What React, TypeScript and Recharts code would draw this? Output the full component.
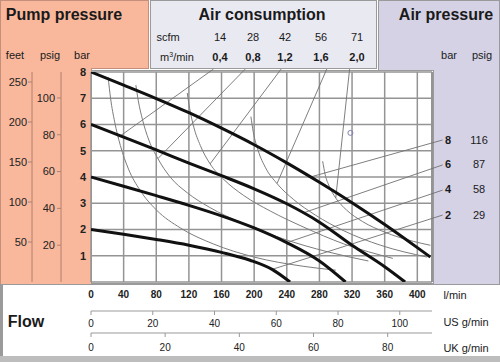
import React from 'react';
import {
  ComposedChart,
  Line,
  XAxis,
  YAxis,
  CartesianGrid,
  ReferenceLine,
  ReferenceDot,
} from 'recharts';

// axis ticks
const flowTicks = [0, 40, 80, 120, 160, 200, 240, 280, 320, 360, 400];
const usGpmTicks = [0, 20, 40, 60, 80, 100];
const ukGpmTicks = [0, 20, 40, 60, 80];
const barTicks = [0, 1, 2, 3, 4, 5, 6, 7, 8];
const psigTicks = [20, 40, 60, 80, 100];
const feetTicks = [50, 100, 150, 200, 250];

// header labels
const scfmLabels = ['14', '28', '42', '56', '71'];
const m3Labels = ['0,4', '0,8', '1,2', '1,6', '2,0'];
const rightBarLabels = ['8', '6', '4', '2'];
const rightPsigLabels = ['116', '87', '58', '29'];

// air pressure curves (l/min, bar)
const bar8 = [
  { x: 0, y: 8 }, { x: 40, y: 7.5 }, { x: 80, y: 6.99 }, { x: 120, y: 6.45 },
  { x: 160, y: 5.86 }, { x: 200, y: 5.23 }, { x: 240, y: 4.54 }, { x: 280, y: 3.8 },
  { x: 320, y: 3.02 }, { x: 360, y: 2.19 }, { x: 400, y: 1.31 }, { x: 416, y: 0.95 },
];
const bar6 = [
  { x: 0, y: 6 }, { x: 40, y: 5.52 }, { x: 80, y: 5.03 }, { x: 120, y: 4.53 },
  { x: 160, y: 4.05 }, { x: 200, y: 3.55 }, { x: 240, y: 2.98 }, { x: 280, y: 2.28 },
  { x: 320, y: 1.4 }, { x: 360, y: 0.58 }, { x: 385, y: 0 },
];
const bar4 = [
  { x: 0, y: 4 }, { x: 40, y: 3.65 }, { x: 80, y: 3.29 }, { x: 120, y: 2.92 },
  { x: 160, y: 2.52 }, { x: 200, y: 2.06 }, { x: 240, y: 1.5 }, { x: 280, y: 0.8 },
  { x: 312, y: 0 },
];
const bar2 = [
  { x: 0, y: 2 }, { x: 40, y: 1.82 }, { x: 80, y: 1.62 }, { x: 120, y: 1.4 },
  { x: 160, y: 1.13 }, { x: 195, y: 0.83 }, { x: 222, y: 0.48 }, { x: 244, y: 0 },
];
const pressureCurves = [bar8, bar6, bar4, bar2];

// air consumption curves
const air04 = [
  { x: 21, y: 7.8 }, { x: 24, y: 7.0 }, { x: 29, y: 6.1 }, { x: 36, y: 5.2 },
  { x: 46, y: 4.3 }, { x: 60, y: 3.5 }, { x: 80, y: 2.75 }, { x: 110, y: 2.05 },
  { x: 150, y: 1.45 }, { x: 200, y: 0.95 }, { x: 260, y: 0.6 }, { x: 300, y: 0.45 },
];
const air08 = [
  { x: 55, y: 7.5 }, { x: 58, y: 6.9 }, { x: 63, y: 6.2 }, { x: 71, y: 5.4 },
  { x: 82, y: 4.7 }, { x: 97, y: 4.0 }, { x: 118, y: 3.4 }, { x: 145, y: 2.85 },
  { x: 185, y: 2.25 }, { x: 235, y: 1.65 }, { x: 290, y: 1.15 }, { x: 340, y: 0.8 },
];
const air12 = [
  { x: 118, y: 7.2 }, { x: 121, y: 6.6 }, { x: 126, y: 5.9 }, { x: 134, y: 5.2 },
  { x: 146, y: 4.5 }, { x: 163, y: 3.9 }, { x: 187, y: 3.3 }, { x: 220, y: 2.7 },
  { x: 260, y: 2.1 }, { x: 310, y: 1.45 }, { x: 370, y: 0.9 },
];
const air16 = [
  { x: 196, y: 6.3 }, { x: 199, y: 5.7 }, { x: 205, y: 5.0 }, { x: 214, y: 4.35 },
  { x: 228, y: 3.75 }, { x: 248, y: 3.15 }, { x: 275, y: 2.55 }, { x: 310, y: 1.95 },
  { x: 355, y: 1.4 }, { x: 412, y: 0.95 },
];
const air20 = [
  { x: 284, y: 4.6 }, { x: 287, y: 4.1 }, { x: 292, y: 3.65 }, { x: 300, y: 3.2 },
  { x: 313, y: 2.75 }, { x: 333, y: 2.3 }, { x: 360, y: 1.9 }, { x: 395, y: 1.55 },
  { x: 416, y: 1.4 },
];
const airCurves = [air04, air08, air12, air16, air20];

// leader lines from the labels to the curves
const airLeaders = [
  [{ x: 150, y: 8.11 }, { x: 33, y: 5.5 }],
  [{ x: 189, y: 8.11 }, { x: 82, y: 4.7 }],
  [{ x: 233, y: 8.11 }, { x: 146, y: 4.5 }],
  [{ x: 289, y: 8.11 }, { x: 228, y: 3.75 }],
  [{ x: 317, y: 8.11 }, { x: 300, y: 3.2 }],
];
const pressureLeaders = [
  [{ x: 431, y: 5.41 }, { x: 269, y: 4.0 }],
  [{ x: 431, y: 4.46 }, { x: 260, y: 2.63 }],
  [{ x: 431, y: 3.5 }, { x: 240, y: 1.5 }],
  [{ x: 431, y: 2.55 }, { x: 222, y: 0.48 }],
];
const strayDot = { x: 318, y: 5.68 };

// flow range spanned by the gallon scales (l/min)
const flowRange = [{ x: 0, y: 0 }, { x: 418, y: 0 }];

const FONT = '"Liberation Sans", Arial, sans-serif';
const SALMON = '#f9b89c';
const LAVENDER = '#d5d2e6';

const L_PER_US_GAL = 3.785;
const L_PER_UK_GAL = 4.546;

const Box = ({ style }: { style: React.CSSProperties }) => (
  <div style={{ position: 'absolute', boxSizing: 'border-box', ...style }} />
);

const T = ({
  x,
  y,
  children,
  size = 11,
  bold = false,
}: {
  x: number;
  y: number;
  children: React.ReactNode;
  size?: number;
  bold?: boolean;
}) => (
  <div
    style={{
      position: 'absolute',
      left: x,
      top: y,
      transform: 'translate(-50%, -50%)',
      fontSize: size,
      fontWeight: bold ? 'bold' : 'normal',
      fontFamily: FONT,
      color: '#1a1a1a',
      whiteSpace: 'nowrap',
      lineHeight: 1,
    }}
  >
    {children}
  </div>
);

const headerX = [220, 253, 285, 321, 357];
const rightY = [140, 164, 189, 215];

const tickFont = { fontSize: 10, fill: '#222', fontFamily: FONT };

const App = () => {
  return (
    <div style={{ position: 'absolute', left: 0, top: 0, width: 500, height: 362, background: '#fff' }}>
      {/* panels */}
      <Box style={{ left: 0, top: 0, width: 149, height: 69, background: SALMON, border: '1px solid #c4907c' }} />
      <Box style={{ left: 0, top: 68, width: 92, height: 216, background: SALMON, borderLeft: '1px solid #c4907c', borderRight: '1px solid #c4907c' }} />
      <Box style={{ left: 150, top: 0, width: 227, height: 69, background: '#e9e9f1', border: '1px solid #9a9a9a' }} />
      <Box style={{ left: 378, top: 0, width: 122, height: 285, background: LAVENDER, border: '1px solid #9a9a9a' }} />
      <Box style={{ left: 91, top: 70, width: 343, height: 214, background: '#fff', border: '1px solid #9a9a9a' }} />
      <Box style={{ left: 0, top: 284, width: 500, height: 72, background: '#fff', borderLeft: '3px solid #9a9a9a', borderTop: '1px solid #9a9a9a' }} />
      <Box style={{ left: 0, top: 356, width: 500, height: 6, background: '#bdbdbd' }} />

      <div style={{ position: 'absolute', left: 0, top: 0 }}>
        <ComposedChart width={500} height={362} margin={{ top: 72, right: 68, bottom: 5, left: 0 }}>
          <XAxis
            xAxisId="a_lmin"
            type="number"
            dataKey="x"
            domain={[0, 418]}
            allowDataOverflow
            ticks={flowTicks}
            interval={0}
            height={29}
            axisLine={false}
            tickLine={false}
            tickSize={0}
            tickMargin={9}
            tick={{ ...tickFont, fontWeight: 'bold' }}
          />
          <XAxis
            xAxisId="b_us"
            type="number"
            dataKey="x"
            domain={[0, 418]}
            allowDataOverflow
            ticks={usGpmTicks.map((g) => g * L_PER_US_GAL)}
            tickFormatter={(v: number) => String(Math.round(v / L_PER_US_GAL))}
            interval={0}
            height={22}
            stroke="#999"
            tickSize={4}
            tickMargin={5}
            tick={tickFont}
          />
          <XAxis
            xAxisId="c_uk"
            type="number"
            dataKey="x"
            domain={[0, 418]}
            allowDataOverflow
            ticks={ukGpmTicks.map((g) => g * L_PER_UK_GAL)}
            tickFormatter={(v: number) => String(Math.round(v / L_PER_UK_GAL))}
            interval={0}
            height={24}
            stroke="#999"
            tickSize={4}
            tickMargin={7}
            tick={tickFont}
          />
          <YAxis
            yAxisId="a_bar"
            type="number"
            domain={[0, 8]}
            allowDataOverflow
            ticks={barTicks}
            interval={0}
            width={30}
            axisLine={false}
            tickLine={false}
            tickSize={3}
            tickMargin={2}
            tickFormatter={(v: number) => (v === 0 ? '' : String(v))}
            tick={{ ...tickFont, fontSize: 11, fontWeight: 'bold' }}
          />
          <YAxis
            yAxisId="b_psig"
            type="number"
            domain={[0, 114.1]}
            allowDataOverflow
            ticks={psigTicks}
            interval={0}
            width={29}
            stroke="#b08070"
            tickSize={4}
            tickMargin={2}
            tick={{ ...tickFont, fontSize: 11 }}
          />
          <YAxis
            yAxisId="c_feet"
            type="number"
            domain={[0, 262.5]}
            allowDataOverflow
            ticks={feetTicks}
            interval={0}
            width={32}
            stroke="#b08070"
            tickSize={4}
            tickMargin={1}
            tick={{ ...tickFont, fontSize: 11 }}
          />
          <CartesianGrid xAxisId="a_lmin" yAxisId="a_bar" stroke="#949494" strokeWidth={1.5} />
          <ReferenceLine xAxisId="a_lmin" yAxisId="a_bar" x={418} stroke="#949494" strokeWidth={2} />

          {/* invisible carriers so the gallon scales get their own ticks */}
          <Line xAxisId="b_us" yAxisId="a_bar" data={flowRange} dataKey="y" stroke="none" dot={false} activeDot={false} isAnimationActive={false} />
          <Line xAxisId="c_uk" yAxisId="a_bar" data={flowRange} dataKey="y" stroke="none" dot={false} activeDot={false} isAnimationActive={false} />

          {airCurves.map((d, i) => (
            <Line
              key={'air' + i}
              xAxisId="a_lmin"
              yAxisId="a_bar"
              data={d}
              dataKey="y"
              type="monotone"
              stroke="#7c7c7c"
              strokeWidth={1}
              dot={false}
              activeDot={false}
              isAnimationActive={false}
            />
          ))}
          {airLeaders.map((s, i) => (
            <ReferenceLine
              key={'al' + i}
              xAxisId="a_lmin"
              yAxisId="a_bar"
              segment={s}
              ifOverflow="visible"
              stroke="#707070"
              strokeWidth={0.9}
            />
          ))}
          {pressureLeaders.map((s, i) => (
            <ReferenceLine
              key={'pl' + i}
              xAxisId="a_lmin"
              yAxisId="a_bar"
              segment={s}
              ifOverflow="visible"
              stroke="#707070"
              strokeWidth={0.9}
            />
          ))}
          {pressureCurves.map((d, i) => (
            <Line
              key={'p' + i}
              xAxisId="a_lmin"
              yAxisId="a_bar"
              data={d}
              dataKey="y"
              type="monotone"
              stroke="#111"
              strokeWidth={3}
              dot={false}
              activeDot={false}
              isAnimationActive={false}
            />
          ))}
          <ReferenceDot
            xAxisId="a_lmin"
            yAxisId="a_bar"
            x={strayDot.x}
            y={strayDot.y}
            r={2.5}
            fill="none"
            stroke="#8080b0"
          />
        </ComposedChart>
      </div>

      {/* header texts */}
      <T x={64} y={15} size={16} bold>Pump pressure</T>
      <T x={15} y={55}>feet</T>
      <T x={50} y={55}>psig</T>
      <T x={82} y={55}>bar</T>

      <T x={262} y={15} size={16} bold>Air consumption</T>
      <T x={168} y={37}>scfm</T>
      <T x={177} y={57}>
        m<sup style={{ fontSize: 7 }}>3</sup>/min
      </T>
      {scfmLabels.map((s, i) => (
        <T key={'s' + i} x={headerX[i]} y={37}>{s}</T>
      ))}
      {m3Labels.map((s, i) => (
        <T key={'m' + i} x={headerX[i]} y={57} bold>{s}</T>
      ))}

      <T x={446} y={15} size={16} bold>Air pressure</T>
      <T x={449} y={55}>bar</T>
      <T x={482} y={55}>psig</T>
      {rightBarLabels.map((s, i) => (
        <T key={'rb' + i} x={448} y={rightY[i]} bold>{s}</T>
      ))}
      {rightPsigLabels.map((s, i) => (
        <T key={'rp' + i} x={479} y={rightY[i]}>{s}</T>
      ))}

      {/* flow block */}
      <T x={26} y={322} size={16} bold>Flow</T>
      <T x={455} y={295}>l/min</T>
      <T x={466} y={322}>US g/min</T>
      <T x={466} y={348}>UK g/min</T>
    </div>
  );
};

export default App;
